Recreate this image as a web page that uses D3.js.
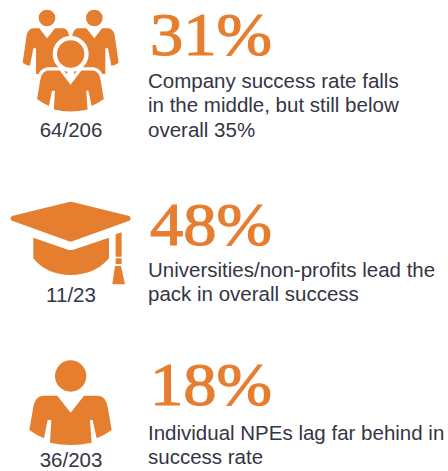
<!DOCTYPE html>
<html>
<head>
<meta charset="utf-8">
<style>
  html, body { margin: 0; padding: 0; background: #fff; }
  svg { display: block; }
  .pct { font-family: "Liberation Serif", serif; font-size: 62px; fill: #e67e30; stroke: #e67e30; stroke-width: 1.2px; }
  .desc, .count { font-family: "Liberation Sans", sans-serif; font-size: 20.5px; fill: #333644; }
  .count { text-anchor: middle; }
</style>
</head>
<body>
<div id="chart"></div>
<script src="https://cdn.jsdelivr.net/npm/d3@7"></script>
<script>
// Values
var groups = ['company', 'university', 'individual'];
var percents = [31, 48, 18];
var counts = ['64/206', '11/23', '36/203'];
var descriptions = [
  ['Company success rate falls', 'in the middle, but still below', 'overall 35%'],
  ['Universities/non-profits lead the', 'pack in overall success'],
  ['Individual NPEs lag far behind in', 'success rate']
];

var orange = '#e67e30';
var width = 448,
    height = 471;

var svg = d3.select('#chart')
            .append('svg')
            .attr('width', width)
            .attr('height', height);

// Row position, used as the percent baseline (rows are not evenly spaced)
var y = d3.scaleOrdinal()
          .domain(groups)
          .range([55, 245, 405]);

var row = svg.selectAll('.row')
             .data(groups)
             .enter().append('g')
             .attr('class', 'row')
             .attr('transform', function(d) { return 'translate(0,' + y(d) + ')'; });

row.append('text')
   .attr('class', 'pct')
   .attr('x', 150)
   .attr('textLength', 122)
   .attr('lengthAdjust', 'spacingAndGlyphs')
   .text(function(d, i) { return percents[i] + '%'; });

row.append('text')
   .attr('class', 'count')
   .attr('x', 71)
   .attr('y', function(d, i) { return [82, 57, 62][i]; })
   .text(function(d, i) { return counts[i]; });

row.each(function(d, i) {
  var top = [33, 32, 35][i];
  d3.select(this).selectAll('.desc')
    .data(descriptions[i])
    .enter().append('text')
    .attr('class', 'desc')
    .attr('x', 148)
    .attr('y', function(line, j) { return top + j * 24.4; })
    .text(function(line) { return line; });
});

// Icons are drawn in 3x units, as measured on a zoomed crop
var personBody = 'M172,137 L212,188 L252,137 L296,137 Q318,140 323,170 L335,240 Q315,255 290,265 L278,210 L270,210 L275,278 Q212,292 150,278 L154,210 L143,210 L132,265 Q108,255 88,240 L100,170 Q105,140 128,137 Z';
var backBody = 'M118,85 L141,115 L165,85 L192,85 Q204,88 208,110 L215,190 L200,222 L108,222 L108,145 L100,145 L90,197 Q78,196 68,188 L80,105 Q84,88 98,85 Z';
var cap = 'M36,78 L207,36 Q212,35 217,36 L388,78 Q396,85 388,92 L217,154 Q212,156 207,154 L36,92 Q27,85 36,78 Z';
var capBase = 'M100,143 L204,179 Q212,181 220,179 L327,143 L327,205 Q285,255 212,255 Q140,255 100,205 Z';
var cord = 'M347,133 L365,127 L365,200 L347,200 Z';
var knot = 'M347,205 L365,205 L365,222 L347,222 Z';
var tassel = 'M345,228 L363,228 L375,283 L337,283 Z';

var icons = svg.selectAll('.icon')
               .data(groups)
               .enter().append('g')
               .attr('class', 'icon')
               .attr('fill', orange)
               .attr('transform', function(d) {
                 return 'translate(0,' + (y(d) - 55) + ') scale(0.3333)';
               });

// Two people behind, one in front with a white halo
var people = icons.filter(function(d) { return d === 'company'; });
people.append('circle').attr('cx', 141).attr('cy', 54).attr('r', 25);
people.append('circle').attr('cx', 283).attr('cy', 54).attr('r', 25);
people.append('path').attr('d', backBody);
people.append('path').attr('d', backBody)
      .attr('transform', 'translate(424,0) scale(-1,1)');
people.append('path').attr('d', personBody)
      .attr('transform', 'translate(40,98) scale(0.81,0.83)')
      .attr('stroke', '#fff').attr('stroke-width', 24).attr('paint-order', 'stroke');
people.append('circle').attr('cx', 212).attr('cy', 162)
      .attr('r', 41).attr('stroke', '#fff').attr('stroke-width', 26).attr('paint-order', 'stroke');

var grad = icons.filter(function(d) { return d === 'university'; });
[cap, capBase, cord, knot, tassel].forEach(function(shape) {
  grad.append('path').attr('d', shape);
});

var single = icons.filter(function(d) { return d === 'individual'; });
single.append('circle').attr('cx', 212).attr('cy', 78).attr('r', 47);
single.append('path').attr('d', personBody);
</script>
</body>
</html>
